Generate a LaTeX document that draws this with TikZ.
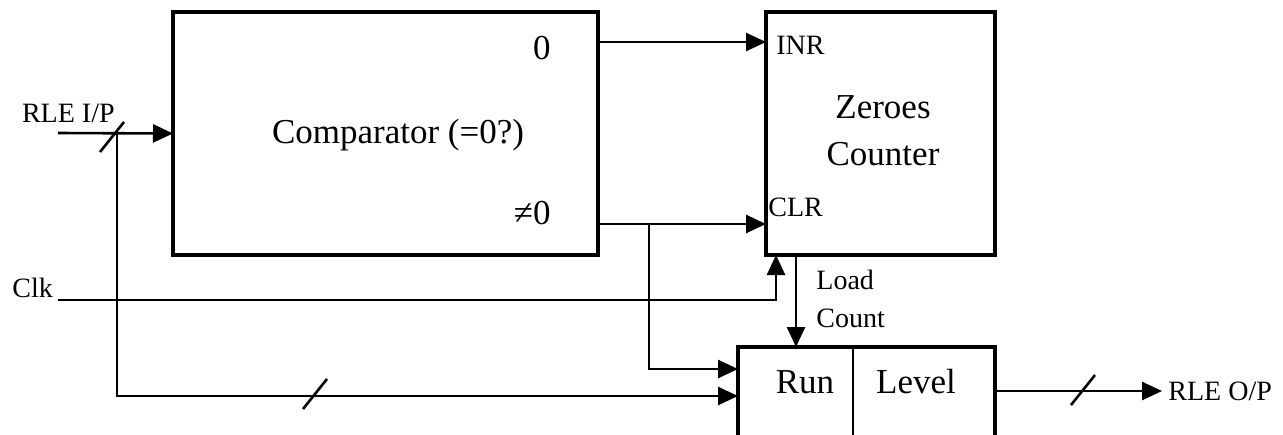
\documentclass[tikz,border=0pt]{standalone}
\usepackage{fontspec}
\setmainfont{Liberation Serif}
\usetikzlibrary{arrows.meta,calc}

\begin{document}
\begin{tikzpicture}[x=0.5pt,y=-0.5pt,
  block/.style={draw,line width=1.7pt,inner sep=0pt,outer sep=0pt},
  wire/.style={line width=1.3pt},
  arr/.style={wire,-{Triangle[length=10pt,width=9pt]}},
  label/.style={inner sep=0pt},
  big/.style={label,font=\fontsize{17.5}{23.5}\selectfont},
  small/.style={label,font=\fontsize{14}{19}\selectfont},
  busmark/.style={line width=1.3pt}]
\clip (0,0) rectangle (1283,434);

% blocks
\node[block,minimum width=212.5pt,minimum height=121.5pt] (cmp) at (385.5,133.5) {};
\node[block,minimum width=114.5pt,minimum height=121.5pt] (cnt) at (880.5,133.5) {};
\node[block,minimum width=128.5pt,minimum height=61.5pt] (reg) at (866.5,408.5) {};
\coordinate (divx) at (853,0);
\draw[line width=1.3pt] (reg.north -| divx) -- (reg.south -| divx);

% block texts
\node[big] (cmptxt) at (398,135) {Comparator (=0?)};
\node[big,anchor=east] (zero) at (551,48) {0};
\node[big,anchor=east] (nzero) at (551,213) {≠0};
\node[big,align=center] (cnttxt) at (883,131) {Zeroes\\Counter};
\node[small,anchor=west] (inr) at (776,45) {INR};
\node[small,anchor=west] (clr) at (768,207) {CLR};
\node[big] (run) at (805,382) {Run};
\node[big] (level) at (916,382) {Level};

% free ends
\coordinate (rin) at (58,133);
\coordinate (tap) at (117,133);
\coordinate (clkin) at (58,300);
\coordinate (clkx) at (776,0);
\coordinate (ldx) at (796,0);
\coordinate (brx) at (649,0);
\coordinate (inrY) at (0,42);
\coordinate (clrY) at (0,224);
\coordinate (runY) at (0,369);
\coordinate (busY) at (0,396);
\coordinate (outY) at (0,391);
\coordinate (rout) at (1162,391);

% outside labels
\node[small,anchor=east] (rinlbl) at (115,113) {RLE I/P};
\node[small,anchor=west] (clklbl) at (12,288) {Clk};
\node[small,anchor=west,align=left] (ldlbl) at (816,299) {Load\\Count};
\node[small,anchor=west] (routlbl) at (1168,391) {RLE O/P};

% connectors
\draw[arr] (rin) -- (cmp.west);
\draw[arr] (cmp.east |- inrY) -- (cnt.west |- inrY);
\draw[arr] (cmp.east |- clrY) -- (cnt.west |- clrY);
\draw[arr] (brx |- clrY) |- (reg.west |- runY);
\draw[arr] (tap) |- (reg.west |- busY);
\draw[arr] (clkin) -| (cnt.south -| clkx);
\draw[arr] (cnt.south -| ldx) -- (reg.north -| ldx);
\draw[arr] (reg.east |- outY) -- (rout);

% bus width marks
\draw[busmark] (112,137) ++(-12,15) -- ++(24,-30);
\draw[busmark] (315,394) ++(-12,15) -- ++(24,-30);
\draw[busmark] (1083,390) ++(-12,15) -- ++(24,-30);
\end{tikzpicture}
\end{document}
